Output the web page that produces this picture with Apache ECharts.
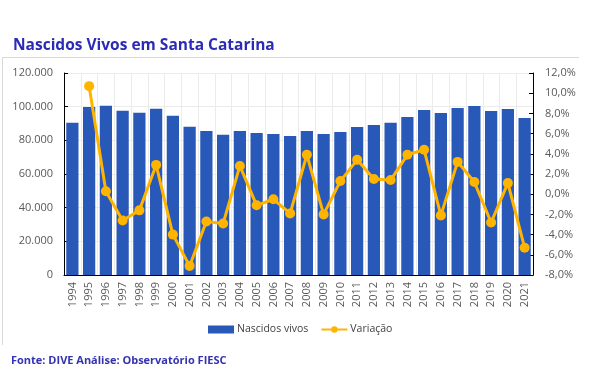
<!DOCTYPE html>
<html><head><meta charset="utf-8">
<script src="https://cdn.jsdelivr.net/npm/echarts@6/dist/echarts.min.js"></script>
<style>html,body{margin:0;padding:0;background:#fff}#c{width:599px;height:382px}</style>
</head><body><div id="c"></div>
<script>
const years = ['1994','1995','1996','1997','1998','1999','2000','2001','2002','2003','2004','2005','2006','2007','2008','2009','2010','2011','2012','2013','2014','2015','2016','2017','2018','2019','2020','2021'];
const nascidos = [90400,99800,100500,97600,96400,98800,94600,88100,85600,83300,85500,84400,83700,82600,85500,83700,85000,87900,89100,90400,93800,98000,96200,99200,100400,97400,98600,93200];
const variacao = [null,10.7,0.3,-2.6,-1.6,2.9,-4.0,-7.1,-2.7,-2.9,2.8,-1.1,-0.5,-1.9,3.9,-2.0,1.3,3.4,1.5,1.4,3.9,4.4,-2.1,3.2,1.2,-2.8,1.1,-5.3];
const leftTicks = {min:0, max:120000, interval:20000};
const rightTicks = {min:-8, max:12, interval:2};

const chart = echarts.init(document.getElementById('c'), null, {renderer:'canvas'});
const labelFont = {color:'#595959', fontSize:11, fontFamily:'Open Sans, Noto Sans, sans-serif'};
chart.setOption({
  animation:false,
  title:{text:'Nascidos Vivos em Santa Catarina', left:8, top:33,
    textStyle:{color:'#2B2BB5', fontSize:15.5, fontWeight:'bold', fontFamily:'Open Sans, Noto Sans, sans-serif'}},
  graphic:[
    {type:'line', shape:{x1:2,y1:57.5,x2:579,y2:57.5}, style:{stroke:'#d9d9d9', lineWidth:1}},
    {type:'line', shape:{x1:2.5,y1:57,x2:2.5,y2:345}, style:{stroke:'#d9d9d9', lineWidth:1}},
    {type:'text', left:11, top:355, style:{text:'Fonte: DIVE Análise: Observatório FIESC', fill:'#3333B3', font:'bold 11px "Open Sans", "Noto Sans", sans-serif'}}
  ],
  grid:{left:64, right:66, top:73, bottom:107},
  legend:{left:203, top:319, itemGap:12, itemWidth:26, itemHeight:8,
    textStyle:{color:'#404040', fontSize:10.5, fontFamily:'Open Sans, Noto Sans, sans-serif', padding:[0,0,0,-2]},
    data:[{name:'Nascidos vivos', icon:'rect'},{name:'Variação'}]},
  xAxis:{type:'category', data:years, boundaryGap:true,
    axisLine:{lineStyle:{color:'#000', width:1}},
    axisTick:{inside:true, length:4, lineStyle:{color:'#000'}},
    axisLabel:Object.assign({rotate:90, margin:7, interval:0}, labelFont),
    splitLine:{show:true, lineStyle:{color:'#ebebeb', width:1}}},
  yAxis:[
    {type:'value', min:leftTicks.min, max:leftTicks.max, interval:leftTicks.interval,
     axisLine:{show:true, lineStyle:{color:'#000'}},
     axisTick:{show:true, inside:true, length:4, lineStyle:{color:'#000'}},
     axisLabel:Object.assign({margin:11, formatter:v=>v===0?'0':v.toLocaleString('de-DE',{minimumFractionDigits:3}).replace(/,000$/,'')}, labelFont),
     splitLine:{show:true, lineStyle:{color:'#ebebeb', width:1}}},
    {type:'value', min:rightTicks.min, max:rightTicks.max, interval:rightTicks.interval, position:'right',
     axisLine:{show:true, lineStyle:{color:'#000'}},
     axisTick:{show:true, inside:true, length:4, lineStyle:{color:'#000'}},
     axisLabel:Object.assign({margin:12, formatter:v=>v.toFixed(1).replace('.',',')+'%'}, labelFont),
     splitLine:{show:false}}
  ],
  series:[
    {name:'Nascidos vivos', type:'bar', data:nascidos, barCategoryGap:'27%', itemStyle:{color:'#2858B8'}},
    {name:'Variação', type:'line', yAxisIndex:1, data:variacao, symbol:'circle', symbolSize:10,
     lineStyle:{color:'#FFB400', width:3}, itemStyle:{color:'#FFB400'}}
  ]
});
</script></body></html>
